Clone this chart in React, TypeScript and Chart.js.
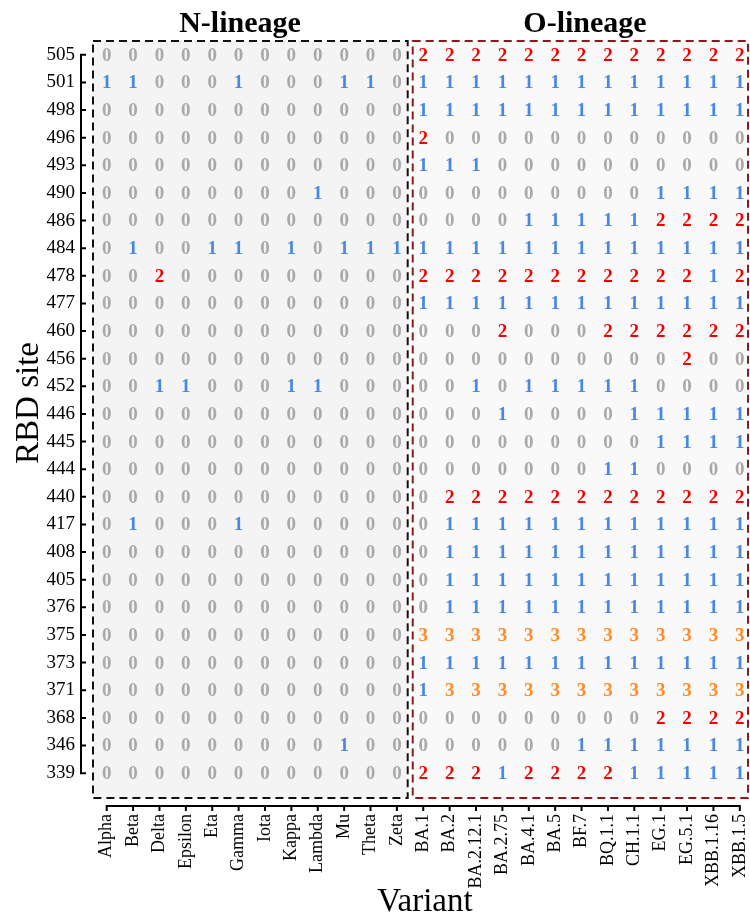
import { useEffect, useRef } from "react";
import { Chart, registerables } from "chart.js";

Chart.register(...registerables);

// ---------- data ----------
const variants = [
  "Alpha", "Beta", "Delta", "Epsilon", "Eta", "Gamma", "Iota", "Kappa", "Lambda", "Mu", "Theta", "Zeta",
  "BA.1", "BA.2", "BA.2.12.1", "BA.2.75", "BA.4.1", "BA.5", "BF.7", "BQ.1.1", "CH.1.1", "EG.1", "EG.5.1", "XBB.1.16", "XBB.1.5",
];

const sites = [
  "505", "501", "498", "496", "493", "490", "486", "484", "478", "477", "460", "456", "452", "446",
  "445", "444", "440", "417", "408", "405", "376", "375", "373", "371", "368", "346", "339",
];

const groupTitles = ["N-lineage", "O-lineage"];

//                Alpha..Zeta (N-lineage)      | BA.1 .. XBB.1.5 (O-lineage)
const site505 = [0, 0, 0, 0, 0, 0, 0, 0, 0, 0, 0, 0, 2, 2, 2, 2, 2, 2, 2, 2, 2, 2, 2, 2, 2];
const site501 = [1, 1, 0, 0, 0, 1, 0, 0, 0, 1, 1, 0, 1, 1, 1, 1, 1, 1, 1, 1, 1, 1, 1, 1, 1];
const site498 = [0, 0, 0, 0, 0, 0, 0, 0, 0, 0, 0, 0, 1, 1, 1, 1, 1, 1, 1, 1, 1, 1, 1, 1, 1];
const site496 = [0, 0, 0, 0, 0, 0, 0, 0, 0, 0, 0, 0, 2, 0, 0, 0, 0, 0, 0, 0, 0, 0, 0, 0, 0];
const site493 = [0, 0, 0, 0, 0, 0, 0, 0, 0, 0, 0, 0, 1, 1, 1, 0, 0, 0, 0, 0, 0, 0, 0, 0, 0];
const site490 = [0, 0, 0, 0, 0, 0, 0, 0, 1, 0, 0, 0, 0, 0, 0, 0, 0, 0, 0, 0, 0, 1, 1, 1, 1];
const site486 = [0, 0, 0, 0, 0, 0, 0, 0, 0, 0, 0, 0, 0, 0, 0, 0, 1, 1, 1, 1, 1, 2, 2, 2, 2];
const site484 = [0, 1, 0, 0, 1, 1, 0, 1, 0, 1, 1, 1, 1, 1, 1, 1, 1, 1, 1, 1, 1, 1, 1, 1, 1];
const site478 = [0, 0, 2, 0, 0, 0, 0, 0, 0, 0, 0, 0, 2, 2, 2, 2, 2, 2, 2, 2, 2, 2, 2, 1, 2];
const site477 = [0, 0, 0, 0, 0, 0, 0, 0, 0, 0, 0, 0, 1, 1, 1, 1, 1, 1, 1, 1, 1, 1, 1, 1, 1];
const site460 = [0, 0, 0, 0, 0, 0, 0, 0, 0, 0, 0, 0, 0, 0, 0, 2, 0, 0, 0, 2, 2, 2, 2, 2, 2];
const site456 = [0, 0, 0, 0, 0, 0, 0, 0, 0, 0, 0, 0, 0, 0, 0, 0, 0, 0, 0, 0, 0, 0, 2, 0, 0];
const site452 = [0, 0, 1, 1, 0, 0, 0, 1, 1, 0, 0, 0, 0, 0, 1, 0, 1, 1, 1, 1, 1, 0, 0, 0, 0];
const site446 = [0, 0, 0, 0, 0, 0, 0, 0, 0, 0, 0, 0, 0, 0, 0, 1, 0, 0, 0, 0, 1, 1, 1, 1, 1];
const site445 = [0, 0, 0, 0, 0, 0, 0, 0, 0, 0, 0, 0, 0, 0, 0, 0, 0, 0, 0, 0, 0, 1, 1, 1, 1];
const site444 = [0, 0, 0, 0, 0, 0, 0, 0, 0, 0, 0, 0, 0, 0, 0, 0, 0, 0, 0, 1, 1, 0, 0, 0, 0];
const site440 = [0, 0, 0, 0, 0, 0, 0, 0, 0, 0, 0, 0, 0, 2, 2, 2, 2, 2, 2, 2, 2, 2, 2, 2, 2];
const site417 = [0, 1, 0, 0, 0, 1, 0, 0, 0, 0, 0, 0, 0, 1, 1, 1, 1, 1, 1, 1, 1, 1, 1, 1, 1];
const site408 = [0, 0, 0, 0, 0, 0, 0, 0, 0, 0, 0, 0, 0, 1, 1, 1, 1, 1, 1, 1, 1, 1, 1, 1, 1];
const site405 = [0, 0, 0, 0, 0, 0, 0, 0, 0, 0, 0, 0, 0, 1, 1, 1, 1, 1, 1, 1, 1, 1, 1, 1, 1];
const site376 = [0, 0, 0, 0, 0, 0, 0, 0, 0, 0, 0, 0, 0, 1, 1, 1, 1, 1, 1, 1, 1, 1, 1, 1, 1];
const site375 = [0, 0, 0, 0, 0, 0, 0, 0, 0, 0, 0, 0, 3, 3, 3, 3, 3, 3, 3, 3, 3, 3, 3, 3, 3];
const site373 = [0, 0, 0, 0, 0, 0, 0, 0, 0, 0, 0, 0, 1, 1, 1, 1, 1, 1, 1, 1, 1, 1, 1, 1, 1];
const site371 = [0, 0, 0, 0, 0, 0, 0, 0, 0, 0, 0, 0, 1, 3, 3, 3, 3, 3, 3, 3, 3, 3, 3, 3, 3];
const site368 = [0, 0, 0, 0, 0, 0, 0, 0, 0, 0, 0, 0, 0, 0, 0, 0, 0, 0, 0, 0, 0, 2, 2, 2, 2];
const site346 = [0, 0, 0, 0, 0, 0, 0, 0, 0, 1, 0, 0, 0, 0, 0, 0, 0, 0, 1, 1, 1, 1, 1, 1, 1];
const site339 = [0, 0, 0, 0, 0, 0, 0, 0, 0, 0, 0, 0, 2, 2, 2, 1, 2, 2, 2, 2, 1, 1, 1, 1, 1];

const scoreRows = [
  site505, site501, site498, site496, site493, site490, site486, site484, site478, site477,
  site460, site456, site452, site446, site445, site444, site440, site417, site408, site405,
  site376, site375, site373, site371, site368, site346, site339,
];

const scoreLevels = [0, 1, 2, 3];
const levelColors = ["#a9a9a9", "#4a88e0", "#f20000", "#ff8c26"];

const SERIF = '"Liberation Serif", "Times New Roman", serif';

// ---------- plugin drawing the panels, cell numbers, capped axes and titles ----------
const decorPlugin = {
  id: "decor",
  beforeDatasetsDraw(chart: any) {
    const { ctx, chartArea, scales } = chart;
    const x = scales.x;
    const top = chartArea.top;
    const bottom = chartArea.bottom;
    const bx0 = x.getPixelForValue(-0.52);
    const bx1 = x.getPixelForValue(11.41);
    const rx0 = x.getPixelForValue(11.6);
    const rx1 = x.getPixelForValue(24.31);
    ctx.save();
    ctx.fillStyle = "#f4f4f4";
    ctx.fillRect(bx0, top, bx1 - bx0, bottom - top);
    ctx.fillStyle = "#f9f9f9";
    ctx.fillRect(rx0, top, rx1 - rx0, bottom - top);
    ctx.lineWidth = 2;
    ctx.setLineDash([8, 5]);
    ctx.strokeStyle = "#111111";
    ctx.strokeRect(bx0, top, bx1 - bx0, bottom - top);
    ctx.strokeStyle = "#8b1a1a";
    ctx.strokeRect(rx0, top, rx1 - rx0, bottom - top);
    ctx.restore();
  },
  afterDatasetsDraw(chart: any) {
    const { ctx } = chart;
    ctx.save();
    ctx.font = `bold 19px ${SERIF}`;
    ctx.textAlign = "center";
    ctx.textBaseline = "middle";
    chart.data.datasets.forEach((ds: any, di: number) => {
      const meta = chart.getDatasetMeta(di);
      ctx.fillStyle = ds.borderColor;
      meta.data.forEach((el: any) => {
        ctx.fillText(ds.label, el.x, el.y + 1);
      });
    });
    ctx.restore();
  },
  afterDraw(chart: any) {
    const { ctx, scales } = chart;
    const x = scales.x;
    const y = scales.y;
    ctx.save();
    ctx.strokeStyle = "#000000";
    ctx.lineWidth = 2;
    ctx.setLineDash([]);
    ctx.beginPath();
    // y axis (capped between first and last site)
    const ax = 81;
    const yTop = y.getPixelForValue(0);
    const yBot = y.getPixelForValue(sites.length - 1);
    ctx.moveTo(ax, yTop - 1);
    ctx.lineTo(ax, yBot + 1);
    sites.forEach((_, i) => {
      const py = y.getPixelForValue(i);
      ctx.moveTo(ax, py);
      ctx.lineTo(ax + 5, py);
    });
    // x axis (capped between first and last variant)
    const ay = 806;
    const xL = x.getPixelForValue(0);
    const xR = x.getPixelForValue(variants.length - 1);
    ctx.moveTo(xL - 1, ay);
    ctx.lineTo(xR + 1, ay);
    variants.forEach((_, j) => {
      const px = x.getPixelForValue(j);
      ctx.moveTo(px, ay);
      ctx.lineTo(px, ay + 5);
    });
    ctx.stroke();

    // group titles
    ctx.fillStyle = "#000000";
    ctx.textAlign = "center";
    ctx.textBaseline = "alphabetic";
    ctx.font = `bold 30px ${SERIF}`;
    ctx.fillText(groupTitles[0], 240, 32);
    ctx.fillText(groupTitles[1], 585, 32);

    // axis titles
    ctx.font = `33px ${SERIF}`;
    ctx.textBaseline = "middle";
    ctx.fillText("Variant", 425, 902);
    ctx.translate(29, 403);
    ctx.rotate(-Math.PI / 2);
    ctx.fillText("RBD site", 0, 0);
    ctx.restore();
  },
};

export default function App() {
  const canvasRef = useRef<HTMLCanvasElement | null>(null);

  useEffect(() => {
    if (!canvasRef.current) return;

    const datasets = scoreLevels.map((level) => {
      const pts: { x: number; y: number }[] = [];
      scoreRows.forEach((row, i) => {
        row.forEach((v, j) => {
          if (v === level) pts.push({ x: j, y: i });
        });
      });
      return {
        label: String(level),
        data: pts,
        borderColor: levelColors[level],
        backgroundColor: levelColors[level],
        pointRadius: 0,
        pointHoverRadius: 0,
        showLine: false,
      };
    });

    const chart = new Chart(canvasRef.current, {
      type: "scatter",
      data: { datasets },
      plugins: [decorPlugin],
      options: {
        animation: false,
        responsive: false,
        devicePixelRatio: 1,
        events: [],
        layout: { padding: { top: 41, right: 2, left: 0, bottom: 0 } },
        plugins: {
          legend: { display: false },
          tooltip: { enabled: false },
          title: { display: false },
        },
        scales: {
          x: {
            type: "linear",
            min: -0.52,
            max: 24.31,
            grid: { display: false },
            border: { display: false },
            afterBuildTicks: (scale: any) => {
              scale.ticks = variants.map((_, i) => ({ value: i }));
            },
            afterFit: (scale: any) => {
              scale.height = 119;
              scale.paddingLeft = 0;
              scale.paddingRight = 0;
            },
            ticks: {
              autoSkip: false,
              minRotation: 90,
              maxRotation: 90,
              padding: 8,
              color: "#000000",
              font: { family: SERIF, size: 18 },
              callback: (v: any) => variants[Math.round(Number(v))] ?? "",
            },
          },
          y: {
            type: "linear",
            reverse: true,
            min: -0.5,
            max: 26.9,
            grid: { display: false },
            border: { display: false },
            afterBuildTicks: (scale: any) => {
              scale.ticks = sites.map((_, i) => ({ value: i }));
            },
            afterFit: (scale: any) => {
              scale.width = 93;
              scale.paddingTop = 0;
              scale.paddingBottom = 0;
            },
            ticks: {
              autoSkip: false,
              padding: 10,
              color: "#000000",
              font: { family: SERIF, size: 19 },
              callback: (v: any) => sites[Math.round(Number(v))] ?? "",
            },
          },
        },
      } as any,
    });

    return () => chart.destroy();
  }, []);

  return (
    <div style={{ position: "absolute", left: 0, top: 0, width: 750, height: 917, background: "#ffffff" }}>
      <canvas ref={canvasRef} width={750} height={917} style={{ display: "block" }} />
    </div>
  );
}
